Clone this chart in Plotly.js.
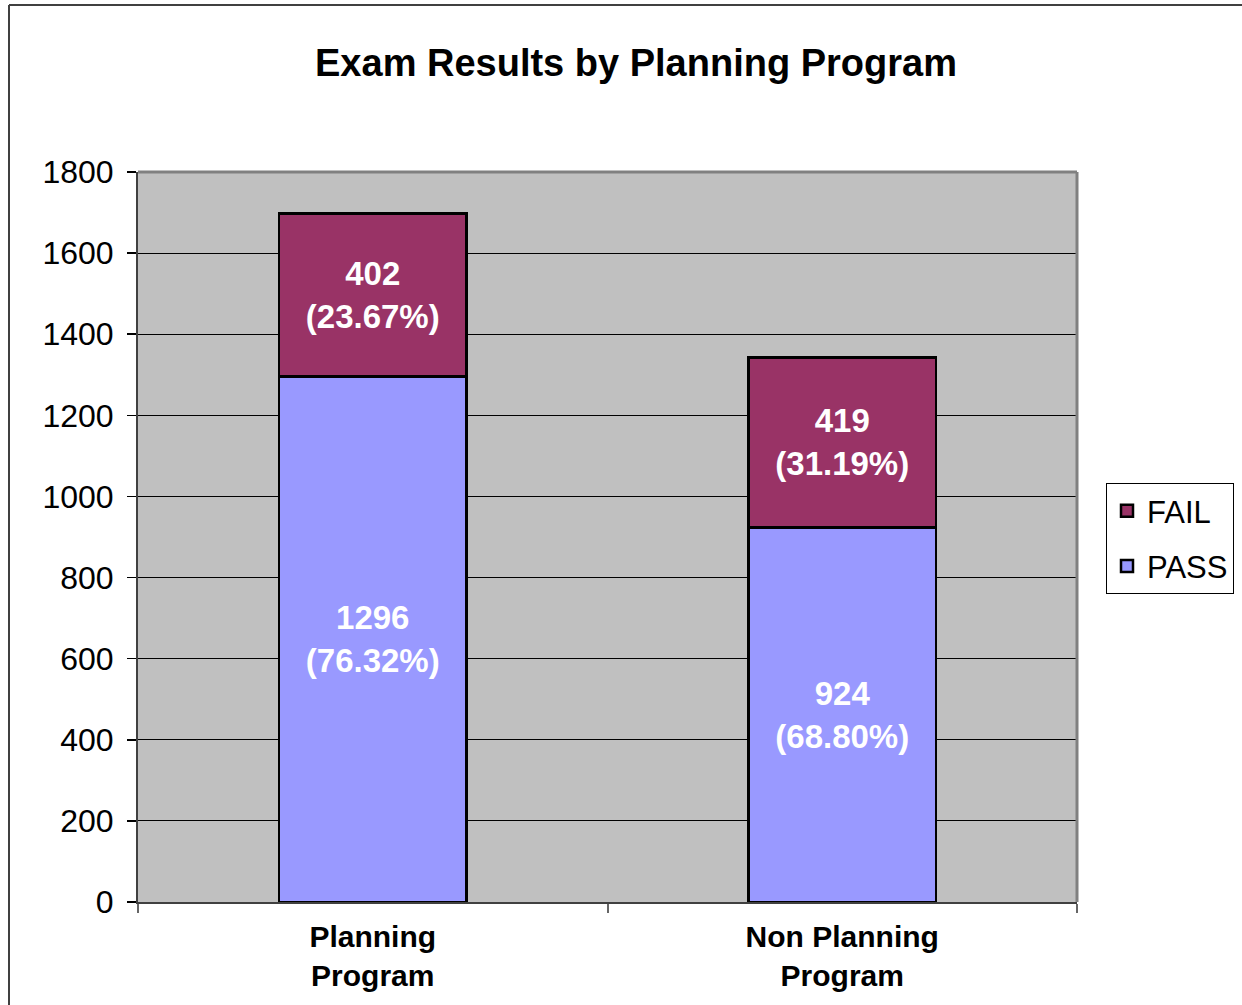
<!DOCTYPE html>
<html>
<head>
<meta charset="utf-8">
<script src="https://cdn.plot.ly/plotly-3.0.1.min.js"></script>
<style>html,body{margin:0;padding:0;background:#fff;}#chart{width:1242px;height:1005px;}</style>
</head>
<body>
<div id="chart"></div>
<script>
const categories = ["Planning<br>Program", "Non Planning<br>Program"];
const passValues = [1296, 924];
const failValues = [402, 419];
const passPct = ["76.32%", "68.80%"];
const failPct = ["23.67%", "31.19%"];
const yTicks = [0, 200, 400, 600, 800, 1000, 1200, 1400, 1600, 1800];

const textFont = {family: "Liberation Sans, Arial, sans-serif", size: 33, color: "#ffffff"};

const traces = [
  {
    type: "bar", name: "PASS", x: categories, y: passValues, customdata: passPct,
    marker: {color: "#9999FF", line: {color: "#000000", width: 2.5}},
    texttemplate: "<b>%{y}<br>(%{customdata})</b>", textposition: "inside",
    insidetextanchor: "middle", textfont: textFont, hoverinfo: "skip",
    legendgroup: "p", legendrank: 2
  },
  {
    type: "bar", name: "FAIL", x: categories, y: failValues, customdata: failPct,
    marker: {color: "#993366", line: {color: "#000000", width: 2.5}},
    texttemplate: "<b>%{y}<br>(%{customdata})</b>", textposition: "inside",
    insidetextanchor: "middle", textfont: textFont, hoverinfo: "skip",
    legendgroup: "f", legendrank: 1
  }
];

const layout = {
  width: 1242, height: 1005,
  margin: {l: 138, r: 165, t: 172, b: 103, pad: 0, autoexpand: false},
  paper_bgcolor: "#ffffff", plot_bgcolor: "#C0C0C0",
  font: {family: "Liberation Sans, Arial, sans-serif", color: "#000000"},
  barmode: "stack", bargap: 0.6,
  title: {text: "<b>Exam Results by Planning Program</b>", font: {size: 38, color: "#000"},
          x: 636 / 1242, xanchor: "center", y: 1 - 63/1005, yanchor: "middle", yref: "container", xref: "container"},
  xaxis: {
    type: "category", tickson: "boundaries", ticks: "outside", ticklen: 9, tickwidth: 2,
    tickcolor: "#666666", showline: true, linecolor: "#404040", linewidth: 2,
    showgrid: false, tickfont: {size: 30, color: "#000"}, tickprefix: "<b>", ticksuffix: "</b>",
    ticklabelstandoff: 7
  },
  yaxis: {
    range: [0, 1800], tickvals: yTicks, ticks: "outside", ticklen: 9, tickwidth: 1.5,
    tickcolor: "#000000", showline: true, linecolor: "#404040", linewidth: 2,
    showgrid: true, gridcolor: "#000000", gridwidth: 1, zeroline: false,
    tickfont: {size: 32, color: "#000"}, ticklabelstandoff: 7
  },
  legend: {
    xref: "container", yref: "container",
    x: 1106 / 1242, xanchor: "left", y: 1 - 483 / 1005, yanchor: "top",
    bordercolor: "#000000", borderwidth: 1, bgcolor: "#ffffff",
    font: {size: 31, color: "#000"}, traceorder: "grouped", tracegroupgap: 12
  },
  shapes: [
    {type: "line", xref: "paper", yref: "paper", x0: 0, x1: 1, y0: 1, y1: 1,
     line: {color: "#808080", width: 3}, layer: "above"},
    {type: "line", xref: "paper", yref: "paper", x0: 1, x1: 1, y0: 0, y1: 1,
     line: {color: "#808080", width: 3}, layer: "above"},
    {type: "line", xref: "paper", yref: "paper", x0: (9 - 138) / 939, x1: (1250 - 138) / 939,
     y0: (902 - 5) / 730, y1: (902 - 5) / 730, line: {color: "#404040", width: 2}},
    {type: "line", xref: "paper", yref: "paper", x0: (9 - 138) / 939, x1: (9 - 138) / 939,
     y0: (902 - 5) / 730, y1: (902 - 1010) / 730, line: {color: "#404040", width: 2}}
  ],
  showlegend: true
};

Plotly.newPlot("chart", traces, layout, {staticPlot: true, displayModeBar: false});
</script>
</body>
</html>
